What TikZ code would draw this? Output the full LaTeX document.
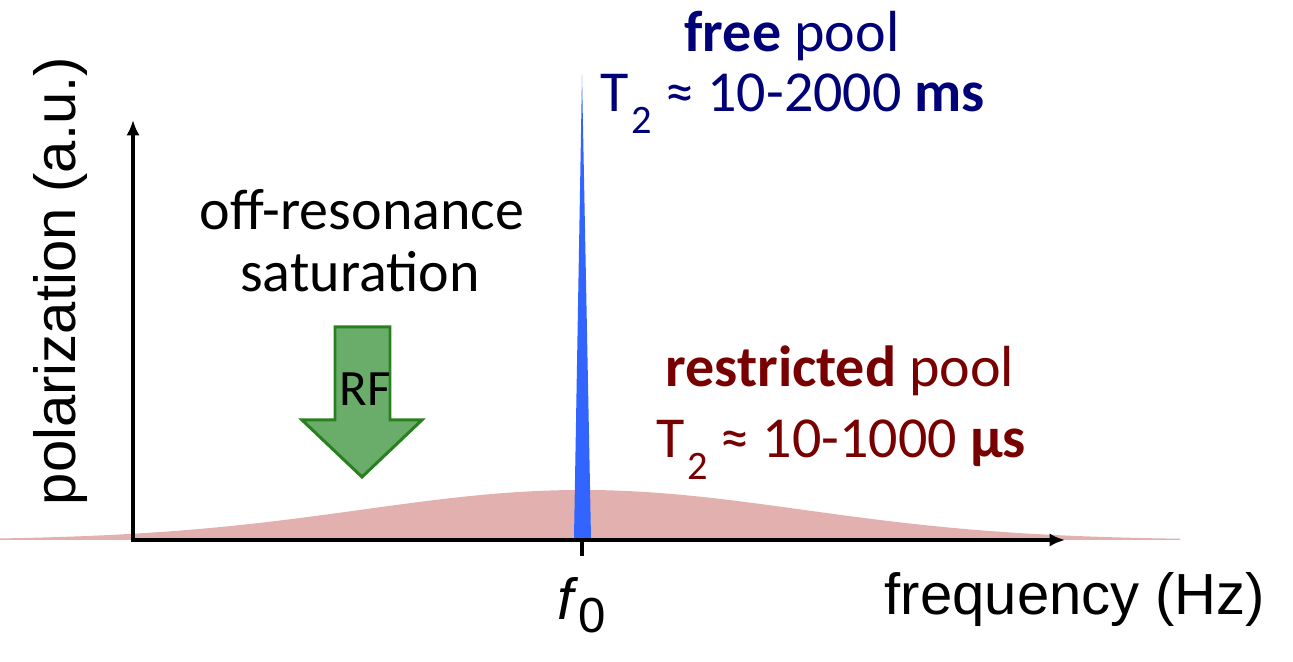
\documentclass[tikz,border=0pt]{standalone}
\usepackage{fontspec}
\setmainfont{Carlito}
\newfontfamily\arialfont{Liberation Sans}
\usetikzlibrary{arrows.meta}
\usetikzlibrary{positioning}
\definecolor{mnavy}{RGB}{0,0,120}
\definecolor{mred}{RGB}{120,0,0}
\definecolor{mblue}{RGB}{50,100,255}
\definecolor{mpink}{RGB}{227,176,176}
\definecolor{mgreen}{RGB}{106,172,106}
\definecolor{mgreendark}{RGB}{40,128,30}
\newcommand{\tsub}{T\kern0.8pt\raisebox{-6pt}{\fontsize{11.5}{12}\selectfont 2}}
\tikzset{axis/.style = {line width=1.3pt, -{Latex[length=4.4pt,width=3.8pt]}},
         axislabel/.style = {font=\arialfont\fontsize{16.5}{20}\selectfont},
         poollabel/.style = {font=\fontsize{16.5}{20}\selectfont, anchor=base, inner sep=0pt},
         rfarrow/.style = {fill=mgreen, draw=mgreendark, line width=0.85pt, line join=miter}}

\begin{document}
\begin{tikzpicture}
      \useasboundingbox (0, 0) rectangle (12.93, 6.62);
      \coordinate (O) at (1.33, 1.22);
      \coordinate (ytip) at (1.33, 5.42);
      \coordinate (xtip) at (10.65, 1.22);
      \coordinate (f0) at (5.82, 1.22);
      \coordinate (f0tick) at (5.82, 1.06);
      \fill [mpink] (0, 1.22) -- plot [domain=0:11.8, samples=150] (\x, {1.22 + 0.5*exp(-0.5*((\x-5.82)/2.2)^2)}) -- (11.8, 1.22) -- cycle;
      \fill [mblue] (5.74, 1.24) -- (5.82, 5.87) -- (5.91, 1.24) -- cycle;
      \draw [axis, {Latex[length=4.4pt,width=3.8pt]}-{Latex[length=4.4pt,width=3.8pt]}, line join=miter] (ytip) -- (O) -- (xtip);
      \draw [line width=1.3pt] (f0) -- (f0tick);
      \node [axislabel, anchor=base] (flabel) at (5.82, 0.42) {\itshape f\/\upshape\raisebox{-3.7pt}{\fontsize{14}{14}\selectfont 0}};
      \node [axislabel, anchor=base] (xlabel) at (10.75, 0.47) {frequency (Hz)};
      \node [axislabel, anchor=base, rotate=90] (ylabel) at (0.76, 3.81) {polarization (a.u.)};
      \node [poollabel, mnavy] (free) at (7.92, 6.10) {\textbf{free} pool};
      \node [poollabel, mnavy] (freeT2) at (7.93, 5.50) {\tsub{} ≈ 10-2000 \textbf{ms}};
      \node [poollabel, mred] (restr) at (8.40, 2.75) {\textbf{restricted} pool};
      \node [poollabel, mred] (restrT2) at (8.41, 2.04) {\tsub{} ≈ 10-1000 \textbf{µs}};
      \node [poollabel] (offres) at (3.62, 4.32) {off-resonance};
      \node [poollabel] (satur) at (3.60, 3.70) {saturation};
      \draw [rfarrow] (3.35, 3.35) -- (3.90, 3.35) -- (3.90, 2.42) -- (4.22, 2.42) -- (3.62, 1.85) -- (3.02, 2.42) -- (3.35, 2.42) -- cycle;
      \node [font=\fontsize{14.5}{16}\selectfont] (rf) at (3.65, 2.73) {RF};
    \end{tikzpicture}
\end{document}
